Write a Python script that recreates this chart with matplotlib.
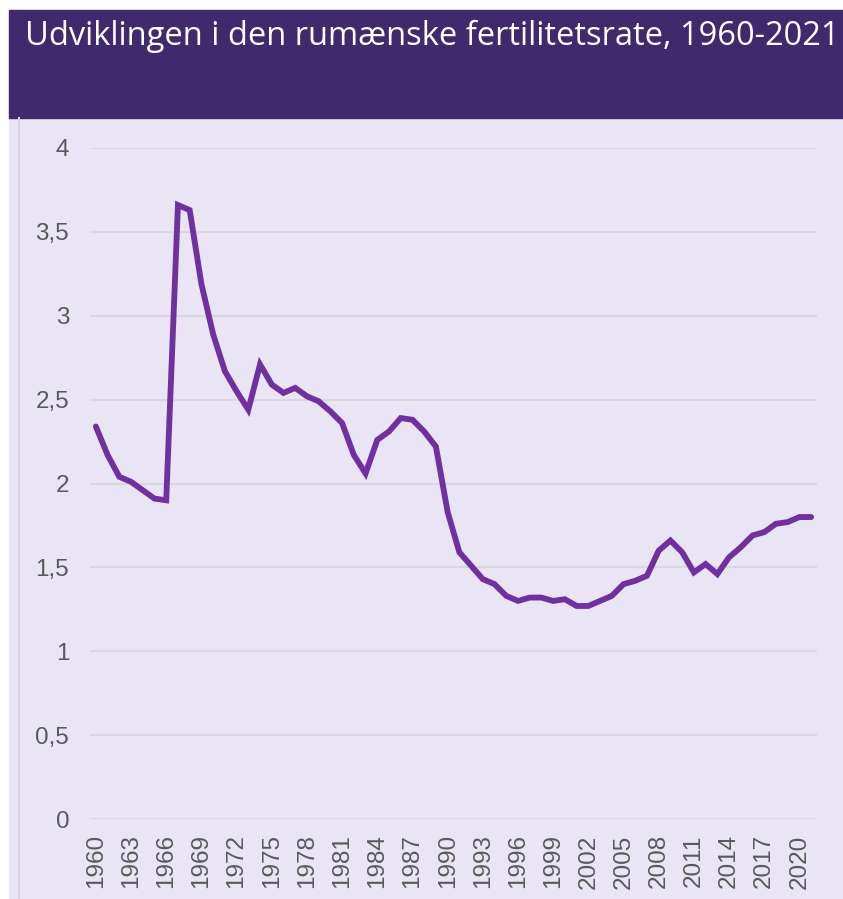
import matplotlib
matplotlib.use('Agg')
import matplotlib.pyplot as plt
from matplotlib.patches import Rectangle
from matplotlib.lines import Line2D
from matplotlib.ticker import FuncFormatter

# Data: Romanian total fertility rate
YEARS = list(range(1960, 2022))
TFR = [
    2.34, 2.17, 2.04, 2.01, 1.96, 1.91, 1.90, 3.66, 3.63, 3.19,
    2.89, 2.67, 2.55, 2.44, 2.71, 2.59, 2.54, 2.57, 2.52, 2.49,
    2.43, 2.36, 2.17, 2.06, 2.26, 2.31, 2.39, 2.38, 2.31, 2.22,
    1.83, 1.59, 1.51, 1.43, 1.40, 1.33, 1.30, 1.32, 1.32, 1.30,
    1.31, 1.27, 1.27, 1.30, 1.33, 1.40, 1.42, 1.45, 1.60, 1.66,
    1.59, 1.47, 1.52, 1.46, 1.56, 1.62, 1.69, 1.71, 1.76, 1.77,
    1.80, 1.80,
]
X_TICKS = list(range(1960, 2021, 3))
Y_TICKS = [0, 0.5, 1, 1.5, 2, 2.5, 3, 3.5, 4]
TITLE = 'Udviklingen i den rumænske fertilitetsrate, 1960-2021'

W, H = 843, 899
BAR = '#41296d'
BG = '#e9e5f4'
LINE = '#7030a0'
GRID = '#d9d7de'
TXT = '#595959'

fig = plt.figure(figsize=(W / 100, H / 100), dpi=100)
fig.patch.set_facecolor('white')

# background panels (behind the axes)
fig.patches.append(Rectangle((9 / W, 0), 1 - 9 / W, 1 - 118 / H,
                             transform=fig.transFigure, color=BG, zorder=-10))
fig.patches.append(Rectangle((9 / W, 1 - 118 / H), 1 - 9 / W, 108 / H,
                             transform=fig.transFigure, color=BAR, zorder=-10))
fig.lines.append(Line2D([18.5 / W, 18.5 / W], [0, 1 - 118 / H],
                        transform=fig.transFigure, color='#d6d3dc', lw=1.5,
                        zorder=-5))
fig.text(25 / W, 1 - 36 / H, TITLE, color='white', fontsize=23.5,
         family='Open Sans', va='center', ha='left')

ax = fig.add_axes([90 / W, 1 - 819 / H, (817 - 90) / W, (819 - 148) / H])
ax.set_facecolor('none')
ax.plot(YEARS, TFR, color=LINE, lw=4.2, solid_joinstyle='miter',
        solid_capstyle='round', clip_on=False, zorder=3)

ax.set_xlim(1959.5, 2021.5)
ax.set_ylim(0, 4)
ax.set_yticks(Y_TICKS)
ax.set_xticks(X_TICKS)
ax.yaxis.set_major_formatter(FuncFormatter(lambda v, p: f'{v:g}'.replace('.', ',')))
ax.set_xticklabels([str(y) for y in X_TICKS], rotation=90)

ax.grid(axis='y', color=GRID, lw=1.5)
ax.set_axisbelow(True)
for s in ax.spines.values():
    s.set_visible(False)
ax.tick_params(axis='both', length=0, colors=TXT, labelsize=17.5,
               labelfontfamily='Liberation Sans')
ax.tick_params(axis='y', pad=15)
ax.tick_params(axis='x', pad=11)

fig.savefig('out.png', dpi=100, facecolor=fig.get_facecolor())
